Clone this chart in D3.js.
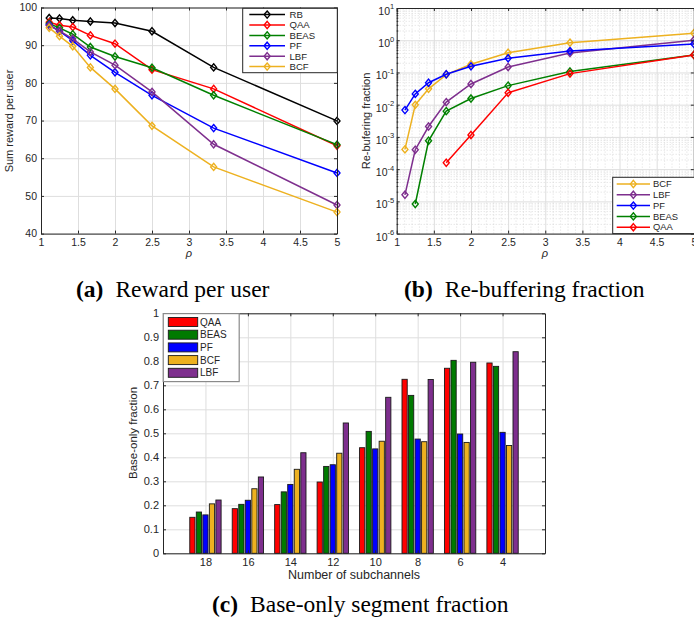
<!DOCTYPE html>
<meta charset="utf-8">
<style>
body { margin: 0; background: #fff; }
text { font-family: "Liberation Sans", Arial, sans-serif; fill: #262626; }
.cap text, text.cap { font-family: "Liberation Serif", "Times New Roman", serif; fill: #000; }
.grid line { stroke: #dedede; stroke-width: 1; }
.grid path { display: none; }
.minor line { stroke: #cfcfcf; stroke-width: 0.7; stroke-dasharray: 1,2; }
.minor path { display: none; }
.ax path { stroke: #262626; stroke-width: 1; }
.ax line { stroke: #262626; }
</style>
<body>
<script src="https://d3js.org/d3.v7.min.js"></script>
<script>

// rho values (x axis of a and b)
var rho = [1.111, 1.25, 1.429, 1.667, 2, 2.5, 3.333, 5];

// (a) sum reward per user
var rewardRB   = [97.2, 97.1, 96.6, 96.3, 95.9, 93.7, 84.1, 69.9];
var rewardQAA  = [96.1, 95.3, 94.8, 92.6, 90.4, 83.5, 78.4, 63.3];
var rewardBEAS = [95.7, 94.6, 92.9, 89.5, 87.0, 84.0, 76.7, 63.6];
var rewardPF   = [95.4, 93.7, 91.2, 87.3, 82.8, 76.7, 68.0, 56.1];
var rewardLBF  = [95.2, 93.8, 91.7, 88.2, 84.7, 77.6, 63.7, 47.6];
var rewardBCF  = [94.6, 92.4, 89.7, 84.1, 78.4, 68.6, 57.7, 45.7];

// (b) re-buffering fraction (null = zero, not shown on log scale)
var rebufBCF  = [4.1e-4, 9.9e-3, 0.031, 0.086, 0.18, 0.41, 0.84, 1.65];
var rebufLBF  = [1.6e-5, 4.0e-4, 2.1e-3, 0.012, 0.044, 0.148, 0.40, 1.0];
var rebufPF   = [6.8e-3, 0.0216, 0.048, 0.088, 0.155, 0.275, 0.46, 0.77];
var rebufBEAS = [null, 8.3e-6, 7.6e-4, 6.3e-3, 0.0155, 0.039, 0.107, 0.35];
var rebufQAA  = [null, null, null, 1.58e-4, 1.15e-3, 0.0234, 0.092, 0.35];

// (c) base-only segment fraction
var subch = ["18", "16", "14", "12", "10", "8", "6", "4"];
var baseQAA  = [0.150, 0.186, 0.203, 0.297, 0.440, 0.725, 0.771, 0.793];
var baseBEAS = [0.172, 0.204, 0.256, 0.362, 0.508, 0.658, 0.804, 0.779];
var basePF   = [0.160, 0.221, 0.287, 0.369, 0.435, 0.476, 0.497, 0.504];
var baseBCF  = [0.206, 0.269, 0.350, 0.417, 0.467, 0.465, 0.462, 0.449];
var baseLBF  = [0.222, 0.318, 0.419, 0.543, 0.650, 0.724, 0.796, 0.840];

var cRed = "#ff0000", cGreen = "#008000", cBlue = "#0000ff",
    cYel = "#EDB120", cPur = "#7E2F8E", cBlack = "#000000";

var svg = d3.select("body").append("svg")
    .attr("width", 694).attr("height", 626);

var diamond = "M0,-3.6L3,0L0,3.6L-3,0Z";

// draws grid for an axes
function frame(g, x, y, opt) {
  var x0 = x.range()[0], x1 = x.range()[1], y0 = y.range()[0], y1 = y.range()[1];
  var w = x1 - x0, h = y0 - y1;
  if (opt.minorX) {
    g.append("g").attr("class", "minor").attr("transform", "translate(0," + y0 + ")")
      .call(d3.axisBottom(x).tickValues(opt.minorX).tickSize(-h).tickFormat(""));
  }
  if (opt.minorY) {
    g.append("g").attr("class", "minor").attr("transform", "translate(" + x0 + ",0)")
      .call(d3.axisLeft(y).tickValues(opt.minorY).tickSize(-w).tickFormat(""));
  }
  g.append("g").attr("class", "grid").attr("transform", "translate(0," + y0 + ")")
    .call(d3.axisBottom(x).tickValues(opt.xt).tickSize(-h).tickFormat(""));
  g.append("g").attr("class", "grid").attr("transform", "translate(" + x0 + ",0)")
    .call(d3.axisLeft(y).tickValues(opt.yt).tickSize(-w).tickFormat(""));
}

function axes(g, x, y, opt) {
  var x0 = x.range()[0], y0 = y.range()[0], x1 = x.range()[1], y1 = y.range()[1];
  var fs = opt.fs || 10.5;
  var bx = g.append("g").attr("class", "ax").attr("transform", "translate(0," + y0 + ")")
    .call(d3.axisBottom(x).tickValues(opt.xt).tickSize(-3).tickSizeOuter(0).tickPadding(5).tickFormat(opt.xf));
  bx.selectAll("text").style("font-size", fs + "px");
  g.append("g").attr("class", "ax").attr("transform", "translate(0," + y1 + ")")
    .call(d3.axisTop(x).tickValues(opt.xt).tickSize(-3).tickSizeOuter(0).tickFormat(""));
  var ly = g.append("g").attr("class", "ax").attr("transform", "translate(" + x0 + ",0)")
    .call(d3.axisLeft(y).tickValues(opt.yt).tickSize(-3).tickSizeOuter(0).tickPadding(4).tickFormat(opt.yf));
  ly.selectAll("text").style("font-size", fs + "px");
  g.append("g").attr("class", "ax").attr("transform", "translate(" + x1 + ",0)")
    .call(d3.axisRight(y).tickValues(opt.yt).tickSize(-3).tickSizeOuter(0).tickFormat(""));
  return ly;
}

function series(g, x, y, xs, list) {
  var line = d3.line().defined(function(d) { return d[1] != null; })
    .x(function(d) { return x(d[0]); }).y(function(d) { return y(d[1]); });
  list.forEach(function(s) {
    var pts = xs.map(function(v, i) { return [v, s.v[i]]; });
    g.append("path").attr("d", line(pts)).attr("fill", "none")
      .attr("stroke", s.c).attr("stroke-width", 1.5);
    g.selectAll(null).data(pts.filter(function(d) { return d[1] != null; })).enter()
      .append("path").attr("d", diamond)
      .attr("transform", function(d) { return "translate(" + x(d[0]) + "," + y(d[1]) + ")"; })
      .attr("fill", "none").attr("stroke", s.c).attr("stroke-width", 1.4);
  });
}

function lineLegend(g, box, list, rows) {
  g.append("rect").attr("x", box[0]).attr("y", box[1]).attr("width", box[2]).attr("height", box[3])
    .attr("fill", "#fff").attr("stroke", "#262626").attr("stroke-width", 1);
  list.forEach(function(s, i) {
    var yy = rows.y0 + i * rows.dy;
    g.append("line").attr("x1", rows.l0).attr("x2", rows.l1).attr("y1", yy).attr("y2", yy)
      .attr("stroke", s.c).attr("stroke-width", 1.5);
    g.append("path").attr("d", diamond).attr("transform", "translate(" + (rows.l0 + rows.l1) / 2 + "," + yy + ")")
      .attr("fill", "none").attr("stroke", s.c).attr("stroke-width", 1.4);
    g.append("text").attr("x", rows.tx).attr("y", yy).attr("dy", "0.35em")
      .style("font-size", rows.fs + "px").text(s.n);
  });
}

// ---------- (a) ----------
var ga = svg.append("g");
var xa = d3.scaleLinear().domain([1, 5]).range([41, 337]);
var ya = d3.scaleLinear().domain([40, 100]).range([233.6, 7.5]);
var rhoTicks = [1, 1.5, 2, 2.5, 3, 3.5, 4, 4.5, 5];
frame(ga, xa, ya, { xt: rhoTicks, yt: d3.range(40, 101, 10) });
var listA = [
  { n: "RB", c: cBlack, v: rewardRB }, { n: "QAA", c: cRed, v: rewardQAA },
  { n: "BEAS", c: cGreen, v: rewardBEAS }, { n: "PF", c: cBlue, v: rewardPF },
  { n: "LBF", c: cPur, v: rewardLBF }, { n: "BCF", c: cYel, v: rewardBCF }];
series(ga, xa, ya, rho, listA);
axes(ga, xa, ya, { xt: rhoTicks, yt: d3.range(40, 101, 10), xf: d3.format(""), yf: d3.format("") });
lineLegend(ga, [242.7, 8.3, 94.6, 64.4], listA, { y0: 14.6, dy: 10.4, l0: 249.3, l1: 285, tx: 289.5, fs: 9.6 });
ga.append("text").attr("transform", "translate(13,121) rotate(-90)").attr("text-anchor", "middle")
  .style("font-size", "11px").text("Sum reward per user");
ga.append("text").attr("x", 189).attr("y", 257).attr("text-anchor", "middle")
  .style("font-size", "11px").style("font-style", "italic").text("ρ");

// ---------- (b) ----------
var gb = svg.append("g");
var xb = d3.scaleLinear().domain([1, 5]).range([396.7, 693.8]);
var yb = d3.scaleLog().domain([1e-6, 10]).range([233.6, 8]);
var decades = [1e-6, 1e-5, 1e-4, 1e-3, 1e-2, 1e-1, 1, 10];
var minorLog = [];
decades.slice(0, -1).forEach(function(d) { for (var k = 2; k <= 9; k++) minorLog.push(d * k); });
var minorRho = d3.range(11, 50).map(function(v) { return v / 10; }).filter(function(v) { return Math.round(v * 10) % 5 != 0; });
frame(gb, xb, yb, { xt: rhoTicks, yt: decades, minorX: minorRho, minorY: minorLog });
var listB = [
  { n: "BCF", c: cYel, v: rebufBCF }, { n: "LBF", c: cPur, v: rebufLBF },
  { n: "PF", c: cBlue, v: rebufPF }, { n: "BEAS", c: cGreen, v: rebufBEAS },
  { n: "QAA", c: cRed, v: rebufQAA }];
series(gb, xb, yb, rho, listB);
var lyb = axes(gb, xb, yb, { xt: rhoTicks, yt: decades, xf: d3.format(""), yf: function() { return ""; } });
// minor log ticks
gb.append("g").attr("class", "ax").attr("transform", "translate(396.7,0)")
  .call(d3.axisLeft(yb).tickValues(minorLog).tickSize(-1.6).tickSizeOuter(0).tickFormat(""))
  .select(".domain").remove();
lyb.selectAll(".tick text").each(function(d) {
  var t = d3.select(this).text("10").attr("dy", "0.62em").attr("x", -2.5);
  t.append("tspan").attr("dy", "-0.75em").style("font-size", "7.5px").text(Math.round(Math.log10(d)));
});
lineLegend(gb, [612.7, 177.3, 90, 56.3], listB, { y0: 184, dy: 10.8, l0: 616.7, l1: 650, tx: 653, fs: 9.4 });
gb.append("text").attr("transform", "translate(369.5,121) rotate(-90)").attr("text-anchor", "middle")
  .style("font-size", "11px").text("Re-bufering fraction");
gb.append("text").attr("x", 545).attr("y", 257).attr("text-anchor", "middle")
  .style("font-size", "11px").style("font-style", "italic").text("ρ");

// ---------- (c) ----------
var gc = svg.append("g");
var xc = d3.scaleLinear().domain([0, 9]).range([163, 545]);
var yc = d3.scaleLinear().domain([0, 1]).range([553.3, 313.3]);
var grp = d3.range(1, 9);
var yTicksC = d3.range(0, 11).map(function(v) { return v / 10; });
frame(gc, xc, yc, { xt: grp, yt: yTicksC });
var listC = [
  { n: "QAA", c: cRed, v: baseQAA }, { n: "BEAS", c: "#007a00", v: baseBEAS },
  { n: "PF", c: cBlue, v: basePF }, { n: "BCF", c: cYel, v: baseBCF },
  { n: "LBF", c: cPur, v: baseLBF }];
var slot = 0.769 / listC.length;
listC.forEach(function(s, j) {
  gc.selectAll(null).data(s.v).enter().append("rect")
    .attr("x", function(d, i) { return xc(i + 1 + (j - 2) * slot - slot * 0.4); })
    .attr("width", xc(slot * 0.8) - xc(0))
    .attr("y", function(d) { return yc(d); })
    .attr("height", function(d) { return yc(0) - yc(d); })
    .attr("fill", s.c).attr("stroke", "#1a1a1a").attr("stroke-width", 0.9);
});
axes(gc, xc, yc, { xt: grp, yt: yTicksC, fs: 11,
  xf: function(i) { return subch[i - 1]; }, yf: function(d) { return d3.format("")(+d.toFixed(1)); } });
// legend (c)
gc.append("rect").attr("x", 163.2).attr("y", 313.6).attr("width", 76).attr("height", 68)
  .attr("fill", "#fff").attr("stroke", "#8a8a8a").attr("stroke-width", 1.2);
listC.forEach(function(s, i) {
  var yy = 322 + i * 12.7;
  gc.append("rect").attr("x", 168.3).attr("y", yy - 4.5).attr("width", 29.4).attr("height", 9)
    .attr("fill", s.c).attr("stroke", "#1a1a1a").attr("stroke-width", 0.9);
  gc.append("text").attr("x", 200).attr("y", yy).attr("dy", "0.35em")
    .style("font-size", "10px").text(s.n);
});
gc.append("text").attr("x", 354).attr("y", 579).attr("text-anchor", "middle")
  .style("font-size", "12.5px").text("Number of subchannels");
gc.append("text").attr("transform", "translate(137,433) rotate(-90)").attr("text-anchor", "middle")
  .style("font-size", "11.5px").text("Base-only fraction");

// ---------- captions ----------
function caption(x, y, lab, txt) {
  var t = svg.append("text").attr("class", "cap").attr("x", x).attr("y", y)
    .style("font-size", "23.5px");
  t.append("tspan").style("font-weight", "bold").text(lab);
  t.append("tspan").attr("dx", 12).text(txt);
}
caption(76, 296.7, "(a)", "Reward per user");
caption(404, 296.7, "(b)", "Re-buffering fraction");
caption(212, 612, "(c)", "Base-only segment fraction");

</script>
</body>
